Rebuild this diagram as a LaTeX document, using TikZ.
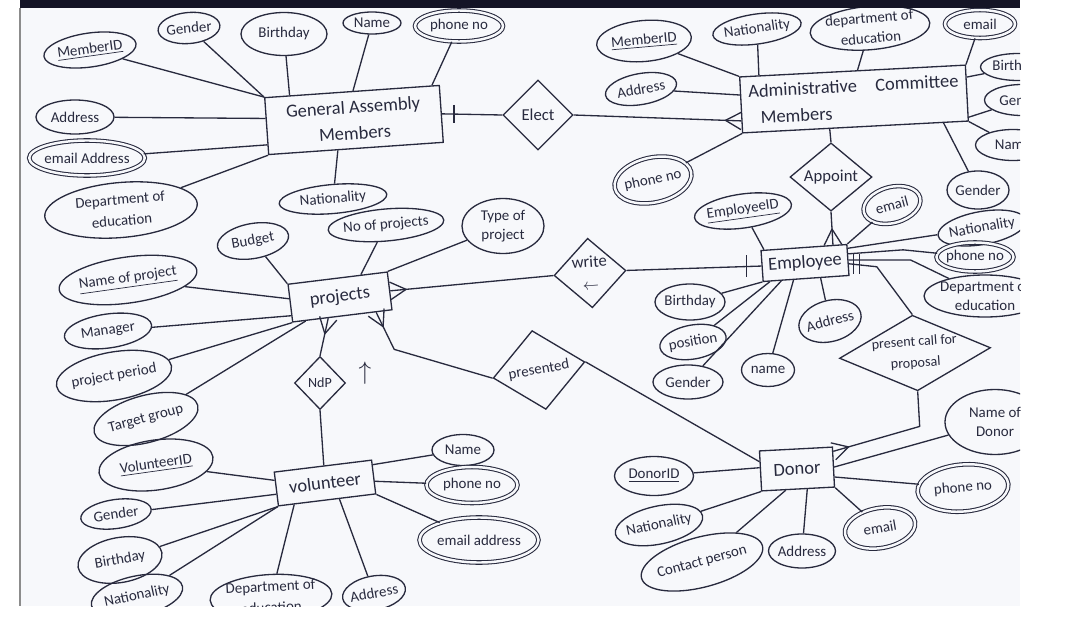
\documentclass[tikz,border=0pt]{standalone}
\usepackage{fontspec}
\setmainfont{Carlito}
\usetikzlibrary{shapes.geometric,calc}

\definecolor{ink}{RGB}{40,42,62}
\definecolor{paper}{RGB}{247,248,251}
\definecolor{topbar}{RGB}{20,20,38}

\tikzset{
  entity/.style={draw=ink, text=ink, rectangle, line width=0.75pt, inner sep=1pt, align=center, font=\fontsize{10.5}{12.5}\selectfont},
  relation/.style={draw=ink, text=ink, diamond, line width=0.75pt, inner sep=0pt, align=center, font=\fontsize{9.5}{11}\selectfont},
  attr/.style={draw=ink, text=ink, ellipse, line width=0.75pt, inner xsep=-1pt, inner ysep=0pt, align=center, font=\fontsize{8.5}{10.5}\selectfont},
  multiattr/.style={attr, double=paper, double distance=1.4pt, line width=0.6pt},
  link/.style={draw=ink, line width=0.75pt, line join=round},
  dims/.style 2 args={minimum width=#1*0.02cm, minimum height=#2*0.02cm},
}

% crow's foot: end on the entity, point it comes from
\newcommand{\crowfoot}[2]{\draw[link] ($(#1)!5pt!90:(#2)$) -- ($(#1)!9pt!(#2)$) -- ($(#1)!5pt!-90:(#2)$);}

\begin{document}
\begin{tikzpicture}[x=0.02cm, y=-0.02cm]
  \useasboundingbox (0,0) rectangle (1066,619);
  \fill[white] (0,0) rectangle (1066,619);
  \fill[paper] (20,0) rectangle (1020,606);
  \fill[topbar] (20,0) rectangle (1020,8);
  \draw[black!45, line width=0.8pt] (20,8) -- (20,606);

  \begin{scope}
  \clip (20,8) rectangle (1020,606);

  % entities
  \node[entity, dims={175}{57}, rotate=4, font=\fontsize{10.5}{15}\selectfont] (gam) at (354,120) {General Assembly\\Members};
  \node[entity, dims={226}{56}, rotate=3, align=left, font=\fontsize{10.5}{15}\selectfont] (acm) at (854,99) {Administrative\quad Committee\\\hspace{0.6em}Members};
  \node[entity, dims={86}{31}, rotate=4] (emp) at (805,263) {Employee};
  \node[entity, dims={100}{38}, rotate=7] (proj) at (340,297) {projects};
  \node[entity, dims={98}{34}, rotate=7] (vol) at (325,483) {volunteer};
  \node[entity, dims={73}{40}, rotate=3] (donor) at (797,469) {Donor};

  % relationships
  \node[relation, dims={70}{70}] (elect) at (538,115) {Elect};
  \node[relation, dims={82}{66}] (appoint) at (831,177) {Appoint};
  \node[relation, dims={72}{66}, rotate=4, font=\fontsize{9.5}{13}\selectfont] (write) at (590,273) {write\\$\leftarrow$};
  \node[relation, dims={51}{53}, font=\fontsize{8}{9}\selectfont] (ndp) at (320,383) {NdP};
  \node[text=ink, font=\Large] (ndparrow) at (365,373) {$\uparrow$};
  \node[relation, dims={93}{80}, rotate=10, font=\fontsize{8.5}{9}\selectfont] (pres) at (539,370) {presented};
  \node[relation, dims={145}{71}, aspect=2, rotate=4, font=\fontsize{8}{12}\selectfont] (pcp) at (915,353) {present call for\\proposal};

  % general assembly attributes
  \node[attr, dims={93}{34}, rotate=8] (gmid) at (90,50) {\underline{MemberID}};
  \node[attr, dims={62}{31}, rotate=5] (ggen) at (189,28) {Gender};
  \node[attr, dims={86}{43}] (gbir) at (284,34) {Birthday};
  \node[attr, dims={58}{22}] (gnam) at (372,23) {Name};
  \node[multiattr, dims={88}{31}] (gph) at (459,26) {phone no};
  \node[attr, dims={78}{34}] (gadd) at (75,117) {Address};
  \node[multiattr, dims={112}{35}] (gem) at (87,158) {email Address};
  \node[attr, dims={153}{55}, rotate=5, font=\fontsize{8.5}{12}\selectfont] (gdep) at (121,210) {Department of\\education};
  \node[attr, dims={108}{29}, rotate=5] (gnat) at (333,199) {Nationality};

  % committee attributes
  \node[attr, dims={95}{41}, rotate=5] (amid) at (644,41) {\underline{MemberID}};
  \node[attr, dims={85}{30}, rotate=8] (anat) at (757,29) {Nationality};
  \node[attr, dims={110}{43}, rotate=5, font=\fontsize{8.5}{11.5}\selectfont] (adep) at (870,28) {department of\\education};
  \node[multiattr, dims={70}{28}] (aem) at (980,24) {email};
  \node[attr, dims={75}{27}] (abir) at (1018,67) {Birthday};
  \node[attr, dims={75}{31}] (agen) at (1022,100) {Gender};
  \node[attr, dims={75}{31}] (anam) at (1013,145) {Name};
  \node[attr, dims={62}{38}] (agen2) at (978,190) {Gender};
  \node[attr, dims={72}{31}, rotate=10] (aadd) at (641,89) {Address};
  \node[multiattr, dims={78}{45}, rotate=12] (aph) at (653,180) {phone no};

  % employee attributes
  \node[attr, dims={89}{34}, rotate=8] (eid) at (743,211) {\underline{EmployeeID}};
  \node[multiattr, dims={58}{36}, rotate=15] (eem) at (892,205) {email};
  \node[attr, dims={85}{33}, rotate=10] (enat) at (982,228) {Nationality};
  \node[multiattr, dims={74}{29}] (eph) at (975,257) {phone no};
  \node[attr, dims={90}{42}] (edep) at (985,296) {Department of\\education};
  \node[attr, dims={70}{36}] (ebir) at (690,302) {Birthday};
  \node[attr, dims={67}{34}, rotate=10] (epos) at (693,342) {position};
  \node[attr, dims={70}{34}] (egen) at (688,382) {Gender};
  \node[attr, dims={53}{33}] (enam) at (768,370) {name};
  \node[attr, dims={60}{41}, rotate=15] (eadd) at (830,321) {Address};

  % project attributes
  \node[attr, dims={72}{35}, rotate=10] (pbud) at (253,241) {Budget};
  \node[attr, dims={113}{32}, rotate=5] (pno) at (386,225) {No of projects};
  \node[attr, dims={82}{55}] (ptyp) at (503,226) {Type of\\project};
  \node[attr, dims={139}{46}, rotate=8] (pnam) at (128,280) {\underline{Name of project}};
  \node[attr, dims={88}{34}, rotate=8] (pman) at (108,331) {Manager};
  \node[attr, dims={115}{48}, rotate=10] (pper) at (114,376) {project period};
  \node[attr, dims={107}{47}, rotate=15] (ptar) at (146,419) {Target group};

  % volunteer attributes
  \node[attr, dims={115}{50}, rotate=8] (vid) at (156,465) {\underline{VolunteerID}};
  \node[attr, dims={71}{29}, rotate=8] (vgen) at (116,514) {Gender};
  \node[attr, dims={85}{45}, rotate=10] (vbir) at (120,560) {Birthday};
  \node[attr, dims={93}{40}, rotate=12] (vnat) at (137,596) {Nationality};
  \node[attr, dims={116}{45}, rotate=3, font=\fontsize{8.5}{12}\selectfont] (vdep) at (271,597) {Department of\\education};
  \node[attr, dims={61}{34}, rotate=10] (vadd) at (374,593) {Address};
  \node[attr, dims={62}{31}] (vnam) at (463,450) {Name};
  \node[multiattr, dims={91}{36}] (vph) at (472,485) {phone no};
  \node[multiattr, dims={119}{45}] (vem) at (479,540) {email address};

  % donor attributes
  \node[attr, dims={79}{39}] (did) at (654,476) {\underline{DonorID}};
  \node[attr, dims={84}{38}, rotate=12] (dnat) at (659,525) {Nationality};
  \node[attr, dims={108}{50}, rotate=15] (dcon) at (702,562) {Contact person};
  \node[attr, dims={67}{34}] (dadd) at (802,551) {Address};
  \node[multiattr, dims={71}{40}, rotate=10] (dem) at (880,528) {email};
  \node[multiattr, dims={91}{47}, rotate=5] (dph) at (963,488) {phone no};
  \node[attr, dims={100}{65}] (dname) at (995,422) {Name of\\Donor};

  % attribute links
  \draw[link] (gam.north west) -- (gmid);
  \draw[link] (gam.north west) -- (ggen);
  \draw[link] (gam.155) -- (gbir);
  \draw[link] (gam.88) -- (gnam);
  \draw[link] (gam.20) -- (gph);
  \draw[link] (gam.175) -- (gadd);
  \draw[link] (gam.192) -- (gem);
  \draw[link] (gam.south west) -- (gdep);
  \draw[link] (gam.238) -- (gnat);

  \draw[link] (acm.north west) -- (amid);
  \draw[link] (acm.163) -- (anat);
  \draw[link] (acm.80) -- (adep);
  \draw[link] (acm.north east) -- (aem);
  \draw[link] (acm.8) -- (abir);
  \draw[link] (acm.-12) -- (agen);
  \draw[link] (acm.south east) -- (anam);
  \draw[link] (acm.-18) -- (agen2);
  \draw[link] (acm.175) -- (aadd);
  \draw[link] (acm.south west) -- (aph);

  \draw[link] (emp.158) -- (eid);
  \draw[link] (emp.north east) -- (eem);
  \draw[link] (emp.15) -- (enat);
  \draw[link] (emp.8) -- ++(55,-4) -- (eph);
  \draw[link] (emp.0) -- ++(62,0) -- (edep);
  \draw[link] (emp.200) -- (ebir);
  \draw[link] (emp.204) -- (epos);
  \draw[link] (emp.213) -- (egen);
  \draw[link] (emp.232) -- (enam);
  \draw[link] (emp.-48) -- (eadd);

  \draw[link] (proj.north west) -- (pbud);
  \draw[link] (proj.40) -- (pno);
  \draw[link] (proj.north east) -- (ptyp);
  \draw[link] (proj.175) -- (pnam);
  \draw[link] (proj.194) -- (pman);
  \draw[link] (proj.south west) -- (pper);
  \draw[link] (proj.208) -- (ptar);

  \draw[link] (vol.170) -- (vid);
  \draw[link] (vol.186) -- (vgen);
  \draw[link] (vol.south west) -- (vbir);
  \draw[link] (vol.south west) -- (vnat);
  \draw[link] (vol.208) -- (vdep);
  \draw[link] (vol.-55) -- (vadd);
  \draw[link] (vol.14) -- (vnam);
  \draw[link] (vol.-5) -- (vph);
  \draw[link] (vol.south east) -- (vem);

  \draw[link] (donor.175) -- (did);
  \draw[link] (donor.south west) -- (dnat);
  \draw[link] (donor.239) -- (dcon);
  \draw[link] (donor.-66) -- (dadd);
  \draw[link] (donor.south east) -- (dem);
  \draw[link] (donor.-15) -- (dph);
  \draw[link] (donor.0) -- (dname);

  % relationship links
  \draw[link] (gam.east) -- (elect.west);
  \draw[link] ($(gam.east)+(12,-9)$) -- ++(0,18);
  \draw[link] (elect.east) -- (acm.188);
  \crowfoot{acm.188}{elect.east}

  \draw[link] (acm.228) -- (appoint.north);
  \draw[link] (appoint.south) -- (emp.29);
  \crowfoot{emp.29}{appoint.south}

  \draw[link] (proj.east) -- (write.west);
  \crowfoot{proj.east}{write.west}
  \draw[link] (write.east) -- (emp.west);
  \draw[link] ($(emp.west)+(-15,-11)$) -- ++(0,22);

  \draw[link] (emp.-5) -- ++(28,3) -- (pcp.north);
  \draw[link] ($(emp.-5)+(5,-10)$) -- ++(0,20) ($(emp.-5)+(11,-10)$) -- ++(0,20);

  \draw[link] (proj.234) -- (ndp.north);
  \crowfoot{proj.234}{ndp.north}
  \draw[link] (ndp.south) -- (vol);

  \coordinate (presbend) at ($(proj.-30)+(18,37)$);
  \draw[link] (proj.-30) -- (presbend) -- (pres.west);
  \crowfoot{proj.-30}{presbend}
  \draw[link] (pres.east) -- (donor.166);

  \coordinate (pcpbend) at ($(pcp.south)+(2,35)$);
  \draw[link] (pcp.south) -- (pcpbend) -- (donor.23);
  \crowfoot{donor.23}{pcpbend}
  \end{scope}
\end{tikzpicture}
\end{document}
